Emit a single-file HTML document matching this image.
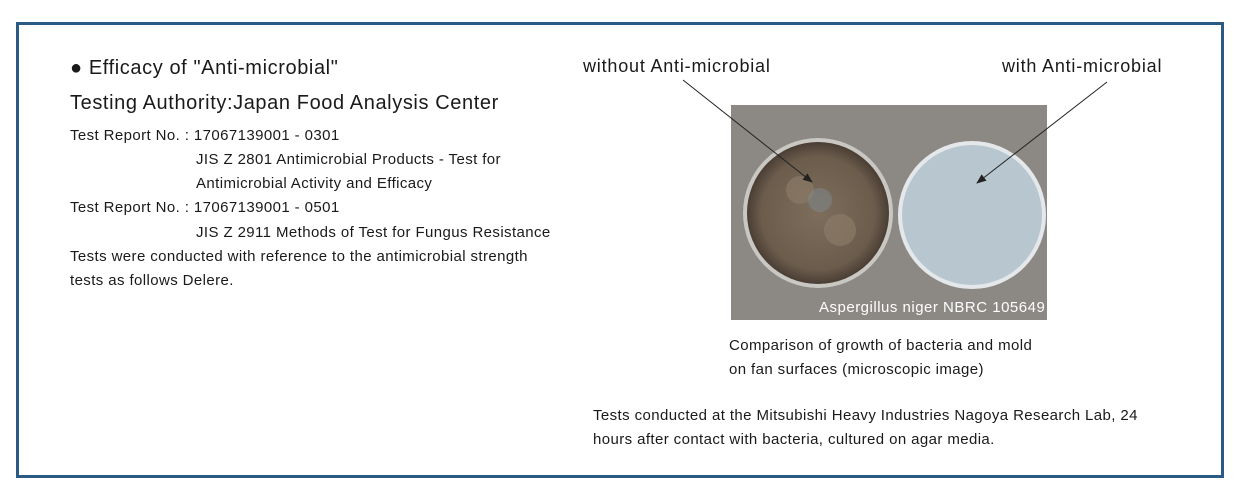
<!DOCTYPE html>
<html><head><style>
body{margin:0;width:1260px;height:504px;background:#fff;font-family:"Liberation Sans",sans-serif;color:#1a1a1a;position:relative;overflow:hidden}
.box{position:absolute;left:16px;top:22px;width:1202px;height:450px;border:3.5px solid #2b5a84}
.t{position:absolute;white-space:nowrap}
.s{font-size:15px;letter-spacing:0.4px}
.b{font-size:20px;letter-spacing:0.6px}
</style></head><body>
<div class="box"></div>
<div class="t b" style="left:70px;top:57px">● Efficacy of "Anti-microbial"</div>
<div class="t b" style="left:70px;top:92px">Testing Authority:Japan Food Analysis Center</div>
<div class="t s" style="left:70px;top:127px">Test Report No. : 17067139001 - 0301</div>
<div class="t s" style="left:196px;top:151px">JIS Z 2801 Antimicrobial Products - Test for</div>
<div class="t s" style="left:196px;top:175px">Antimicrobial Activity and Efficacy</div>
<div class="t s" style="left:70px;top:199px">Test Report No. : 17067139001 - 0501</div>
<div class="t s" style="left:196px;top:224px">JIS Z 2911 Methods of Test for Fungus Resistance</div>
<div class="t s" style="left:70px;top:248px">Tests were conducted with reference to the antimicrobial strength</div>
<div class="t s" style="left:70px;top:272px">tests as follows Delere.</div>
<div class="t" style="left:583px;top:56px;font-size:18px;letter-spacing:0.8px">without Anti-microbial</div>
<div class="t" style="left:1002px;top:56px;font-size:18px;letter-spacing:0.8px">with Anti-microbial</div>
<svg style="position:absolute;left:0;top:0" width="1260" height="504">
<defs>
<radialGradient id="m" cx="50%" cy="50%" r="50%"><stop offset="0" stop-color="#7d6e5c"/><stop offset="0.8" stop-color="#6b5c4c"/><stop offset="1" stop-color="#4a3e34"/></radialGradient>
<marker id="a" markerWidth="10" markerHeight="8" refX="9" refY="4" orient="auto" markerUnits="userSpaceOnUse"><path d="M0,0 L10,4 L0,8z" fill="#222"/></marker>
</defs>
<rect x="731" y="105" width="316" height="215" fill="#8c8884"/>
<circle cx="818" cy="213" r="75" fill="#c9c7c2"/>
<circle cx="818" cy="213" r="71" fill="url(#m)"/>
<circle cx="800" cy="190" r="14" fill="#8a7a66" opacity=".7"/>
<circle cx="840" cy="230" r="16" fill="#8a7a66" opacity=".7"/>
<circle cx="820" cy="200" r="12" fill="#7f8a90" opacity=".5"/>
<circle cx="972" cy="215" r="74" fill="#e4e8ea"/>
<circle cx="972" cy="215" r="70" fill="#b8c7cf"/>
<line x1="683" y1="80" x2="812" y2="182" stroke="#222" stroke-width="1" marker-end="url(#a)"/>
<line x1="1107" y1="82" x2="977" y2="183" stroke="#222" stroke-width="1" marker-end="url(#a)"/>
</svg>
<div class="t" style="left:819px;top:299px;font-size:15px;letter-spacing:0.5px;color:#fff">Aspergillus niger NBRC 105649</div>
<div class="t s" style="left:729px;top:337px">Comparison of growth of bacteria and mold</div>
<div class="t s" style="left:729px;top:361px">on fan surfaces (microscopic image)</div>
<div class="t s" style="left:593px;top:407px">Tests conducted at the Mitsubishi Heavy Industries Nagoya Research Lab, 24</div>
<div class="t s" style="left:593px;top:431px">hours after contact with bacteria, cultured on agar media.</div>
</body></html>
